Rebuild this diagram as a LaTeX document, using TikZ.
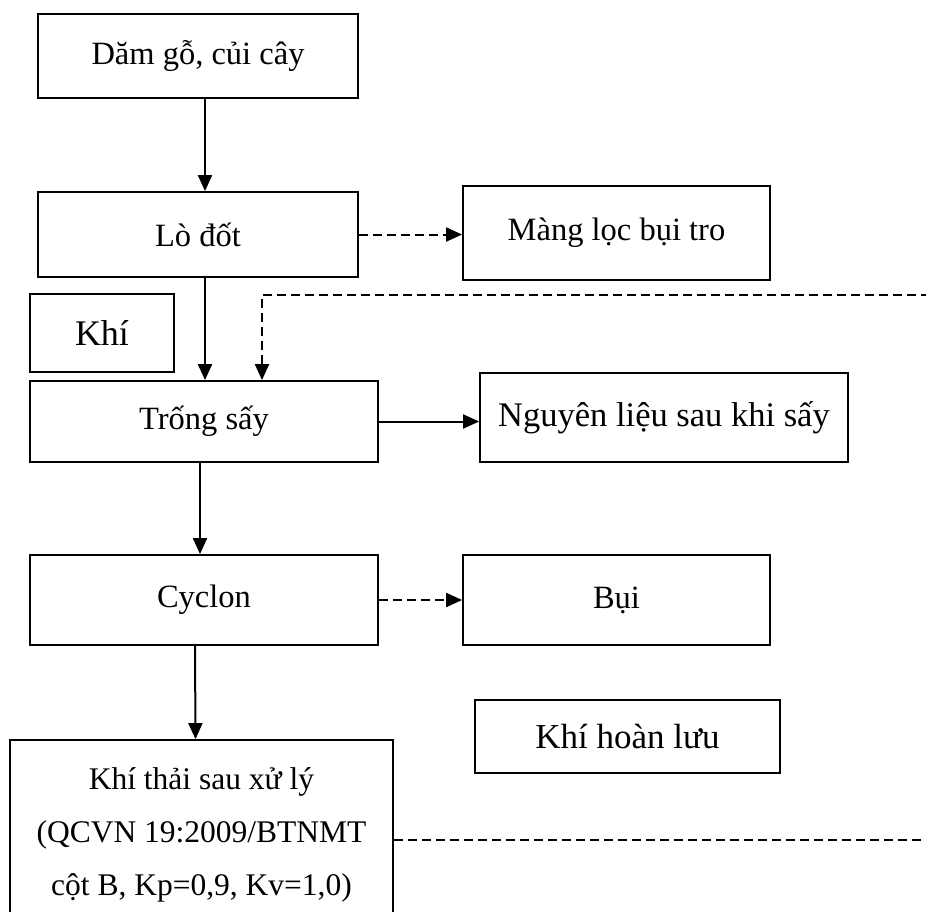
\documentclass[tikz,border=0pt]{standalone}
\usepackage{fontspec}
\setmainfont{Liberation Serif}
\usetikzlibrary{arrows.meta}
\tikzset{
  hop/.style={draw, line width=1.8pt, align=center, inner sep=4pt,
    font=\fontsize{32.5}{53}\selectfont},
  mui/.style={-{Triangle[length=16pt,width=14pt]}, line width=2pt},
  muinet/.style={mui, dash pattern=on 9pt off 5pt}
}
\begin{document}
\begin{tikzpicture}[x=1pt, y=-1pt]
  \useasboundingbox (0,0) rectangle (926,911);
  % Cac khoi
  \node[hop, minimum width=320pt, minimum height=84pt] (go) at (198,56) {Dăm gỗ, củi cây};
  \node[hop, minimum width=320pt, minimum height=85pt] (lo) at (198,234.5) {Lò đốt};
  \node[hop, minimum width=307pt, minimum height=94pt] (mang) at (616.5,233) {Màng lọc bụi tro};
  \node[hop, minimum width=144pt, minimum height=78pt, font=\fontsize{36}{40}\selectfont] (khi) at (102,333) {Khí};
  \node[hop, minimum width=348pt, minimum height=81pt] (trong) at (204,421.5) {Trống sấy};
  \node[hop, minimum width=368pt, minimum height=89pt, font=\fontsize{34.5}{40}\selectfont] (nl) at (664,417.5) {Nguyên liệu sau khi sấy};
  \node[hop, minimum width=348pt, minimum height=90pt] (cyc) at (204,600) {Cyclon};
  \node[hop, minimum width=307pt, minimum height=90pt] (bui) at (616.5,600) {Bụi};
  \node[hop, minimum width=305pt, minimum height=73pt, font=\fontsize{35}{40}\selectfont] (hl) at (627.5,736.5) {Khí hoàn lưu};
  \node[hop, minimum width=383pt, minimum height=190pt, font=\fontsize{31.5}{53}\selectfont] (thai) at (201.5,835)
    {Khí thải sau xử lý\\(QCVN 19:2009/BTNMT\\cột B, Kp=0,9, Kv=1,0)};

  % Dau mut ben phai
  \coordinate (vao) at (930,295);
  \coordinate (ra) at (930,840);

  % Mui ten
  \draw[mui] ([xshift=7pt]go.south) -- ([xshift=7pt]lo.north);
  \draw[muinet] (lo.east) -- (lo.east -| mang.west);
  \draw[mui] ([xshift=7pt]lo.south) -- ([xshift=1pt]trong.north);
  \draw[muinet] (vao) -| ([xshift=58pt]trong.north);
  \draw[mui] (trong.east) -- (trong.east -| nl.west);
  \draw[mui] ([xshift=-4pt]trong.south) -- ([xshift=-4pt]cyc.north);
  \draw[muinet] (cyc.east) -- (cyc.east -| bui.west);
  \draw[mui] ([xshift=-9pt]cyc.south) -- ([xshift=-6pt]thai.north);
  \draw[line width=2pt, dash pattern=on 9pt off 5pt] ([yshift=-5pt]thai.east) -- (ra);
\end{tikzpicture}
\end{document}
